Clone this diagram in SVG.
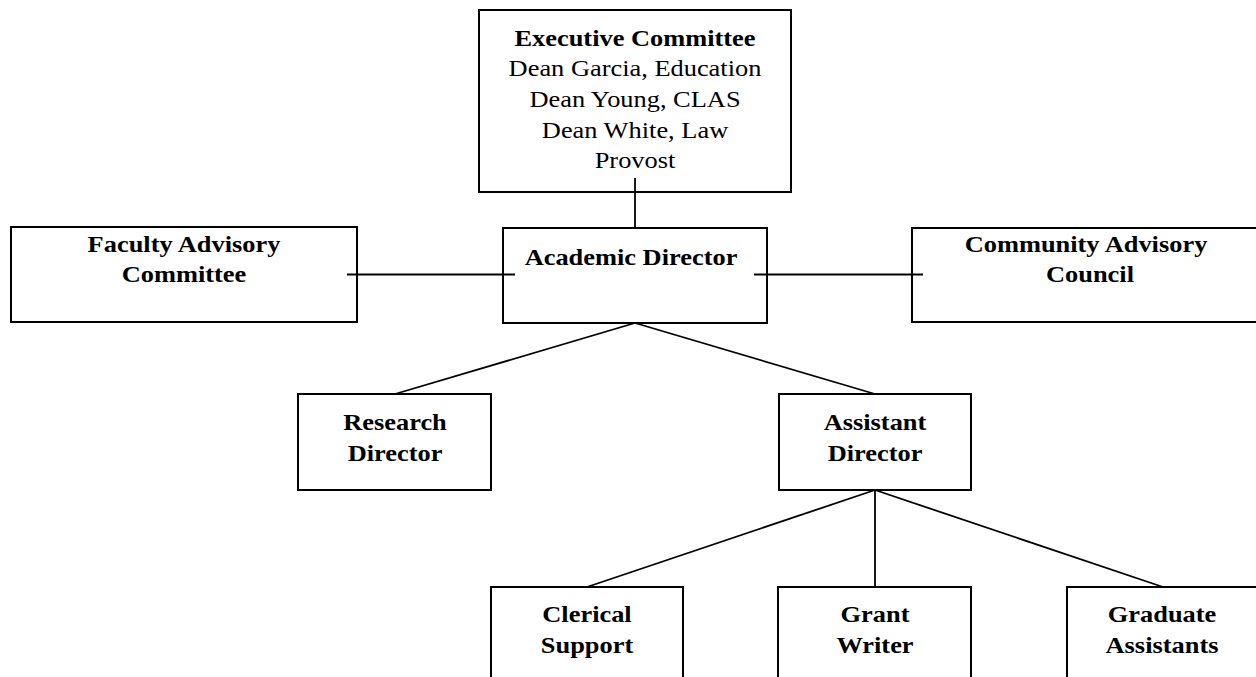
<svg xmlns="http://www.w3.org/2000/svg" width="1256" height="677" viewBox="0 0 1256 677">
<style>
.box{fill:#fff;stroke:#000;stroke-width:2}
.ln{stroke:#000;stroke-width:1.8;fill:none}
text{font-family:"Liberation Serif","Times New Roman",serif;font-size:24px;text-anchor:middle;fill:#000}
.b{font-weight:bold}
</style>
<rect width="1256" height="677" fill="#fff"/>
<g id="exec">
<rect class="box" x="479" y="10" width="312" height="182"/>
<text class="b" transform="translate(635 45.5) scale(1.1 1)">Executive Committee</text>
<text transform="translate(635 76.2) scale(1.1 1)">Dean Garcia, Education</text>
<text transform="translate(635 106.9) scale(1.1 1)">Dean Young, CLAS</text>
<text transform="translate(635 137.6) scale(1.1 1)">Dean White, Law</text>
<text transform="translate(635 168.3) scale(1.1 1)">Provost</text>
</g>
<g id="academic">
<rect class="box" x="503" y="228" width="264" height="95"/>
<text class="b" transform="translate(631 265) scale(1.1 1)">Academic Director</text>
</g>
<g id="faculty">
<rect class="box" x="11" y="227" width="346" height="95"/>
<text class="b" transform="translate(184 251.7) scale(1.1 1)">Faculty Advisory</text>
<text class="b" transform="translate(184 281.7) scale(1.1 1)">Committee</text>
</g>
<g id="community">
<rect class="box" x="912" y="228" width="400" height="94"/>
<text class="b" transform="translate(1086 251.5) scale(1.1 1)">Community Advisory</text>
<text class="b" transform="translate(1090 281.5) scale(1.1 1)">Council</text>
</g>
<g id="research">
<rect class="box" x="298" y="394" width="193" height="96"/>
<text class="b" transform="translate(395 430) scale(1.1 1)">Research</text>
<text class="b" transform="translate(395 461) scale(1.1 1)">Director</text>
</g>
<g id="assistant">
<rect class="box" x="779" y="394" width="192" height="96"/>
<text class="b" transform="translate(875 430) scale(1.1 1)">Assistant</text>
<text class="b" transform="translate(875 461) scale(1.1 1)">Director</text>
</g>
<g id="clerical">
<rect class="box" x="491" y="587" width="192" height="120"/>
<text class="b" transform="translate(587 622) scale(1.1 1)">Clerical</text>
<text class="b" transform="translate(587 653) scale(1.1 1)">Support</text>
</g>
<g id="grant">
<rect class="box" x="778" y="587" width="193" height="120"/>
<text class="b" transform="translate(875 622) scale(1.1 1)">Grant</text>
<text class="b" transform="translate(875 653) scale(1.1 1)">Writer</text>
</g>
<g id="graduate">
<rect class="box" x="1067" y="587" width="250" height="120"/>
<text class="b" transform="translate(1162 622) scale(1.1 1)">Graduate</text>
<text class="b" transform="translate(1162 653) scale(1.1 1)">Assistants</text>
</g>
<g id="connectors">
<line class="ln" x1="635" y1="178" x2="635" y2="228"/>
<line class="ln" x1="347" y1="274.5" x2="515" y2="274.5"/>
<line class="ln" x1="754" y1="274.5" x2="923" y2="274.5"/>
<line class="ln" x1="635" y1="323" x2="395" y2="394"/>
<line class="ln" x1="635" y1="323" x2="875" y2="394"/>
<line class="ln" x1="875" y1="490" x2="587" y2="587"/>
<line class="ln" x1="875" y1="490" x2="875" y2="587"/>
<line class="ln" x1="875" y1="490" x2="1163" y2="587"/>
</g>
</svg>
